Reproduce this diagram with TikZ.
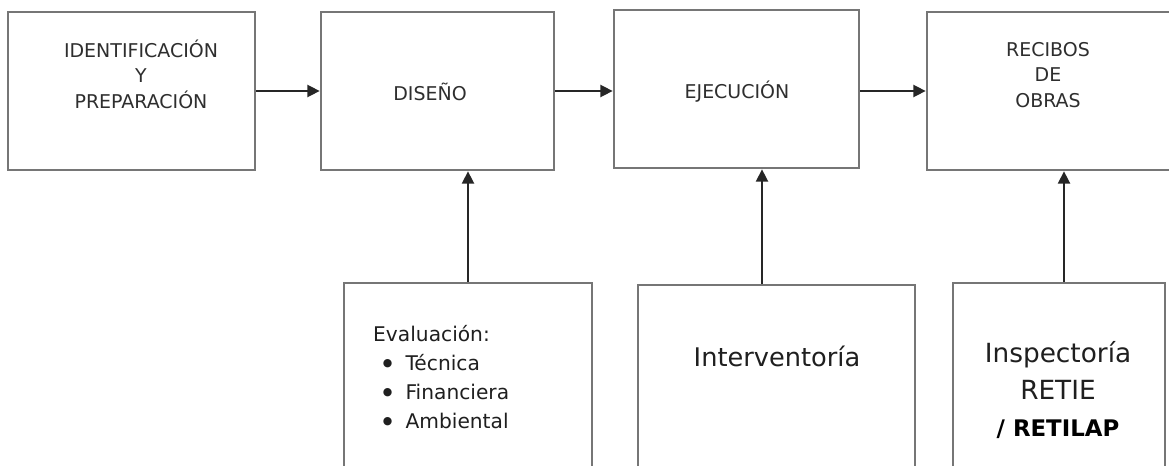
\documentclass[tikz,border=0pt]{standalone}
\usepackage{fontspec}
\setmainfont{DejaVu Sans}
\usetikzlibrary{arrows.meta,positioning,calc}
\definecolor{boxgray}{HTML}{767676}
\definecolor{txtgray}{HTML}{2E2E2E}
\newcommand{\bul}{\hspace*{5.5pt}{\fontsize{6.2}{6}\selectfont\raisebox{2.2pt}{●}}\hspace{7.5pt}}

\begin{document}
\begin{tikzpicture}[
  x=0.02cm, y=-0.02cm,
  box/.style={draw=boxgray, line width=1.5pt, fill=white, inner sep=0pt,
              minimum height=3.16cm},
  lowbox/.style={box, minimum height=3.94cm},
  head/.style={text=txtgray, align=center, font=\fontsize{10.8}{14.6}\selectfont},
  note/.style={text=black!88, align=center, font=\fontsize{15}{21}\selectfont},
  arr/.style={-{Triangle[length=7pt, width=6.8pt]}, draw=black!85, line width=1.3pt}
]
\useasboundingbox (0,0) rectangle (1169,466);
\clip (0,0) rectangle (1169,466);

% main stages
\node[box, minimum width=4.94cm] (ident) at (131.5,91) {};
\node[box, minimum width=4.66cm] (dis) at (437.5,91) {};
\node[box, minimum width=4.90cm] (ejec) at (736.5,89) {};
\node[box, minimum width=4.96cm] (rec) at (1051,91) {};

\node[head] (identtxt) at (141,74) {IDENTIFICACIÓN\\Y\\PREPARACIÓN};
\node[head] (distxt) at (430,92) {DISEÑO};
\node[head] (ejectxt) at (737,92) {EJECUCIÓN};
\node[head] (rectxt) at (1048,75) {RECIBOS\\DE\\OBRAS};

% control boxes
\node[lowbox, minimum width=4.96cm] (eval) at (468,381.5) {};
\node[lowbox, minimum width=5.54cm] (interv) at (776.5,383.5) {};
\node[lowbox, minimum width=4.24cm] (insp) at (1059,381.5) {};

\node[text=black!88, align=left, anchor=west,
      font=\fontsize{11.5}{16.4}\selectfont] (evaltxt) at (367,377)
  {Evaluación:\\ \bul Técnica\\ \bul Financiera\\ \bul Ambiental};
\node[note, font=\fontsize{14.6}{20}\selectfont] (intervtxt) at (777,356) {Interventoría};
\node[note] (insptxt) at (1058,390)
  {Inspectoría\\RETIE\\{\fontsize{13}{18}\selectfont\bfseries\color{black}/ RETILAP}};

\draw[arr] (ident.east) -- (dis.west);
\draw[arr] (dis.east) -- (dis.east -| ejec.west);
\draw[arr] (ejec.east |- dis.east) -- (dis.east -| rec.west);

\draw[arr] (eval.north) -- (eval.north |- dis.south);
\draw[arr] ([xshift=-0.29cm]interv.north) -- ([xshift=-0.29cm]interv.north |- ejec.south);
\draw[arr] ([xshift=0.1cm]insp.north) -- ([xshift=0.1cm]insp.north |- rec.south);
\end{tikzpicture}
\end{document}
